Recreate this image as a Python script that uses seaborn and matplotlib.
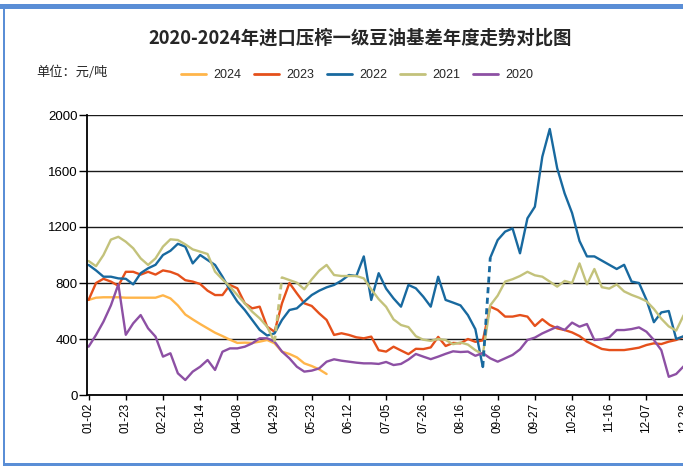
import numpy as np
import pandas as pd
import matplotlib
matplotlib.use("Agg")
import matplotlib.pyplot as plt
from matplotlib.patches import Rectangle
import seaborn as sns

# ---------------- data (basis, 元/吨), one sample every 3 trading days ----------------
years = ["2024", "2023", "2022", "2021", "2020"]
tick_labels = ["01-02", "01-23", "02-21", "03-14", "04-08", "04-29", "05-23", "06-12",
               "07-05", "07-26", "08-16", "09-06", "09-27", "10-26", "11-16", "12-07", "12-28"]
step_days = 3
tick_every = 15

v2024 = [679, 695, 698, 698, 698, 695, 695, 695, 695, 695, 712, 690, 640, 575, 540, 507,
         476, 445, 421, 395, 372, 374, 372, 381, 393, 369, 310, 293, 269, 226, 207, 183, 150]

v2023 = [679, 800, 830, 810, 780, 880, 880, 860, 880, 860, 890, 880, 860, 820, 810, 793,
         745, 714, 714, 786, 762, 655, 619, 631, 488, 452, 655, 800, 726, 655, 636, 583,
         536, 429, 441, 429, 412, 405, 417, 320, 310, 345, 318, 292, 330, 328, 340, 415,
         350, 372, 369, 400, 380, 390, 631, 607, 560, 560, 571, 560, 493, 541, 500, 476,
         464, 447, 421, 381, 355, 329, 321, 321, 321, 329, 338, 357, 369, 364, 381, 393, 417]

v2022 = [929, 890, 845, 845, 833, 830, 790, 870, 905, 930, 1000, 1030, 1080, 1060, 940, 1000,
         964, 929, 845, 750, 667, 607, 536, 465, 425, 440, 536, 607, 619, 667, 714, 745,
         769, 786, 817, 857, 850, 990, 679, 870, 760, 690, 631, 786, 762, 702, 631, 845,
         679, 660, 640, 570, 470, 200, 980, 1107, 1167, 1190, 1012, 1262, 1345, 1702, 1900, 1620,
         1440, 1300, 1100, 990, 990, 960, 930, 900, 930, 810, 800, 680, 520, 590, 600, 400, 420]

v2021 = [957, 920, 1000, 1110, 1130, 1095, 1048, 976, 929, 976, 1060, 1112, 1107, 1076, 1040, 1024,
         1007, 881, 826, 774, 714, 655, 595, 548, 488, 380, 840, 821, 802, 755, 826, 888,
         929, 857, 850, 850, 850, 833, 755, 685, 630, 540, 500, 485, 420, 395, 387, 400,
         393, 363, 375, 360, 320, 290, 640, 710, 810, 827, 850, 880, 855, 845, 810, 774,
         815, 800, 940, 790, 900, 770, 760, 790, 740, 715, 695, 670, 615, 545, 490, 460, 570]

v2020 = [345, 429, 524, 640, 790, 430, 512, 571, 476, 417, 274, 298, 155, 107, 167, 202,
         250, 179, 309, 333, 333, 345, 369, 405, 405, 381, 310, 262, 202, 167, 174, 190,
         238, 255, 245, 238, 231, 226, 226, 222, 236, 214, 222, 253, 293, 274, 256, 274,
         294, 312, 307, 310, 280, 300, 262, 238, 262, 286, 326, 393, 410, 440, 464, 488,
         464, 517, 488, 507, 393, 398, 412, 464, 464, 471, 483, 452, 393, 320, 130, 150, 205]

# samples after which the data has a gap (drawn dashed)
gap_after = {"2022": [53], "2021": [25]}

series = {"2024": v2024, "2023": v2023, "2022": v2022, "2021": v2021, "2020": v2020}
colors = ["#FFB54A", "#E5501B", "#18699F", "#C3C27B", "#8D50A4"]
palette = dict(zip(years, colors))

rows, gap_rows = [], []
for yr in years:
    vals = series[yr]
    seg = 0
    for k, v in enumerate(vals):
        rows.append(dict(year=yr, day=k * step_days, value=v, seg=seg))
        if k in gap_after.get(yr, []):
            seg += 1
            gap_rows.append(dict(year=yr, day=k * step_days, value=vals[k], seg=k))
            gap_rows.append(dict(year=yr, day=(k + 1) * step_days, value=vals[k + 1], seg=k))
df = pd.DataFrame(rows)
gdf = pd.DataFrame(gap_rows)

# ---------------- figure ----------------
sns.set_style("white")
plt.rcParams["font.family"] = ["Liberation Sans", "Noto Sans CJK SC", "DejaVu Sans"]

W, H = 683, 466
fig = plt.figure(figsize=(W / 100, H / 100), dpi=100)
ax = fig.add_axes([87.3 / W, 71 / H, (700 - 87.3) / W, 280 / H])

sns.lineplot(data=df, x="day", y="value", hue="year", hue_order=years, palette=palette,
             units="seg", estimator=None, sort=False, linewidth=1.7, ax=ax)
sns.lineplot(data=gdf, x="day", y="value", hue="year", hue_order=years, palette=palette,
             units="seg", estimator=None, sort=False, linewidth=2.0, linestyle=(0, (2.2, 1.6)),
             legend=False, ax=ax)

ax.set_ylim(0, 2000)
ax.set_xlim(-0.52, 246.6)
ax.set_yticks(np.arange(0, 2001, 400))
ax.set_xticks(np.arange(0, len(tick_labels) * tick_every, tick_every))
ax.set_xticklabels(tick_labels, rotation=90, fontsize=8.5)
ax.tick_params(axis="y", labelsize=9.5, length=5.5, width=1, pad=1.5, colors="black",
               direction="out", left=True)
ax.tick_params(axis="x", length=3.5, width=1, pad=2, colors="black", direction="out", bottom=True)
ax.set_xlabel("")
ax.set_ylabel("")
ax.yaxis.grid(True, color="#1a1a1a", linewidth=1.0)
ax.set_axisbelow(True)
for s in ["top", "right"]:
    ax.spines[s].set_visible(False)
for s in ["left", "bottom"]:
    ax.spines[s].set_color("black")
    ax.spines[s].set_linewidth(1.3)

sns.move_legend(ax, "center", bbox_to_anchor=(357 / W, 1 - 75 / H), bbox_transform=fig.transFigure,
                ncol=5, frameon=False, title=None, fontsize=9, handlelength=2.0,
                handletextpad=0.6, columnspacing=1.0)
for h in ax.get_legend().get_lines():
    h.set_linewidth(2.0)

fig.text(360 / W, 1 - 38 / H, "2020-2024年进口压榨一级豆油基差年度走势对比图",
         ha="center", va="center", fontsize=13.2, fontweight="bold",
         family=["Noto Sans CJK SC", "DejaVu Sans"])
fig.text(36 / W, 1 - 72 / H, "单位：元/吨", ha="left", va="center", fontsize=9.5,
         family=["Noto Sans CJK SC", "DejaVu Sans"])

# frame of the screenshot
blue = "#5A8ED6"
fig.add_artist(Rectangle((0, 1 - 9 / H), 1, 5 / H, transform=fig.transFigure,
                         color=blue, lw=0, zorder=10))
fig.add_artist(Rectangle((3 / W, 0), 2 / W, 1 - 4 / H, transform=fig.transFigure,
                         color=blue, lw=0, zorder=10))
fig.add_artist(Rectangle((3 / W, 0), 1, 3 / H, transform=fig.transFigure,
                         color=blue, lw=0, zorder=10))

fig.savefig("out.png", dpi=100)
